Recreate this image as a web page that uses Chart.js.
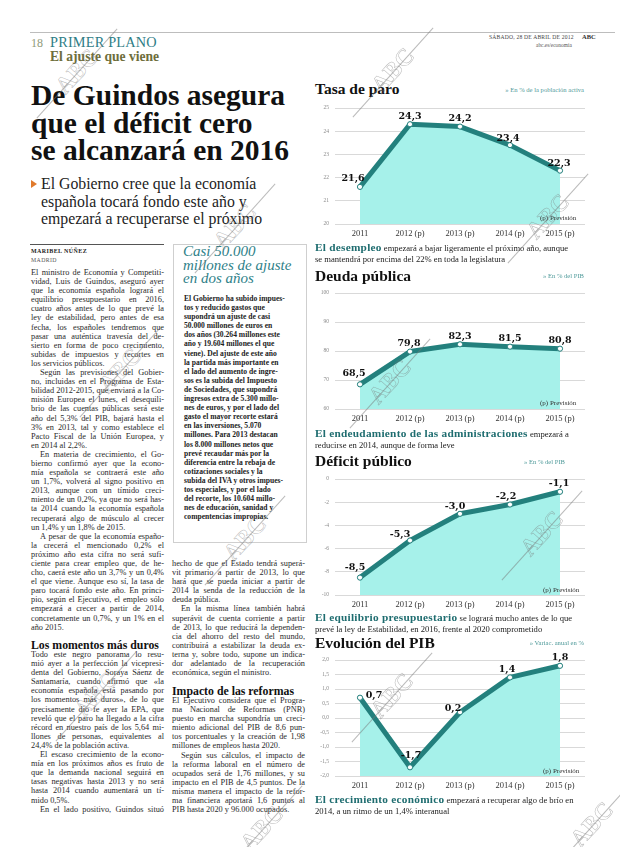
<!DOCTYPE html>
<html><head><meta charset="utf-8">
<script src="https://cdn.jsdelivr.net/npm/chart.js@4.4.1/dist/chart.umd.min.js"></script>
<style>
html,body{margin:0;padding:0;background:#fff;}
#page{position:relative;width:620px;height:847px;overflow:hidden;font-family:"Liberation Serif",serif;color:#222;}
.a{position:absolute;white-space:nowrap;}
.col{position:absolute;font-size:8.3px;line-height:9.1px;color:#2a2a2a;}
.col .l{height:9.1px;white-space:nowrap;}
.ind{padding-left:9px;}
.h3{font-weight:bold;font-size:11.8px;color:#111;}
.ctitle{position:absolute;font-weight:bold;font-size:15.5px;color:#111;white-space:nowrap;}
.cnote{position:absolute;font-size:6.6px;color:#4f9a9a;white-space:nowrap;}
.prev{position:absolute;font-size:7px;color:#333;white-space:nowrap;z-index:5;}
.cap{position:absolute;font-size:8.6px;line-height:11px;color:#222;white-space:nowrap;}
.cap b{font-size:11.3px;color:#1f6d70;letter-spacing:0.25px;}
canvas{position:absolute;}
.wm{position:absolute;width:0;height:0;z-index:20;}
.wm .ln{position:absolute;left:-60px;top:0;width:120px;border-top:0.7px solid rgba(120,120,120,0.5);transform:rotate(-48deg);}
.wm .tx{position:absolute;left:-30px;top:-15px;width:60px;text-align:center;font:bold 24px "Liberation Serif",serif;color:rgba(255,255,255,0);-webkit-text-stroke:0.5px rgba(120,120,120,0.55);transform:rotate(-48deg);}
</style></head>
<body><div id="page">

<!-- header -->
<div class="a" style="left:30px;top:32px;width:585px;border-top:1px solid #bdbdbd;"></div>
<div class="a" style="left:31px;top:36px;font-size:12px;color:#8f9a7a;">18</div>
<div class="a" style="left:50px;top:34px;font-size:14.3px;color:#2e7d86;letter-spacing:0.2px;">PRIMER PLANO</div>
<div class="a" style="left:50px;top:49px;font-size:13.6px;font-weight:bold;color:#6e6e3c;">El ajuste que viene</div>
<div class="a" style="left:489px;top:34px;font-size:5.6px;color:#444;letter-spacing:0.2px;">SÁBADO, 28 DE ABRIL DE 2012</div>
<div class="a" style="left:582px;top:33px;font-size:6.5px;font-weight:bold;color:#333;">ABC</div>
<div class="a" style="left:536px;top:42px;font-size:5.4px;color:#555;">abc.es/economia</div>

<!-- headline -->
<div class="a" style="left:31px;top:82px;font-size:29.5px;line-height:27.5px;font-weight:bold;color:#111;">De Guindos asegura<br>que el déficit cero<br>se alcanzará en 2016</div>
<div class="a" style="left:31px;top:180px;width:0;height:0;border-left:6px solid #e07a2c;border-top:4px solid transparent;border-bottom:4px solid transparent;"></div>
<div class="a" style="left:41px;top:175px;font-size:15.8px;line-height:17.5px;color:#222;">El Gobierno cree que la economía<br>española tocará fondo este año y<br>empezará a recuperarse el próximo</div>

<div class="a" style="left:30px;top:244px;width:134px;border-top:1px solid #555;"></div>
<div class="a" style="left:31px;top:248px;font-size:6px;font-weight:bold;letter-spacing:0.4px;color:#222;">MARIBEL NÚÑEZ</div>
<div class="a" style="left:31px;top:257px;font-size:5.8px;letter-spacing:0.4px;color:#555;">MADRID</div>

<!-- column 1 -->
<div class="col" id="col1" style="left:31px;top:268px;width:133px;">
<div class="l j">El ministro de Economía y Competiti-</div>
<div class="l j">vidad, Luis de Guindos, aseguró ayer</div>
<div class="l j">que la economía española logrará el</div>
<div class="l j">equilibrio presupuestario en 2016,</div>
<div class="l j">cuatro años antes de lo que prevé la</div>
<div class="l j">ley de estabilidad, pero antes de esa</div>
<div class="l j">fecha, los españoles tendremos que</div>
<div class="l j">pasar una auténtica travesía del de-</div>
<div class="l j">sierto en forma de poco crecimiento,</div>
<div class="l j">subidas de impuestos y recortes en</div>
<div class="l">los servicios públicos.</div>
<div class="l j ind">Según las previsiones del Gobier-</div>
<div class="l j">no, incluidas en el Programa de Esta-</div>
<div class="l j">bilidad 2012-2015, que enviará a la Co-</div>
<div class="l j">misión Europea el lunes, el desequili-</div>
<div class="l j">brio de las cuentas públicas será este</div>
<div class="l j">año del 5,3% del PIB, bajará hasta el</div>
<div class="l j">3% en 2013, tal y como establece el</div>
<div class="l j">Pacto Fiscal de la Unión Europea, y</div>
<div class="l">en 2014 al 2,2%.</div>
<div class="l j ind">En materia de crecimiento, el Go-</div>
<div class="l j">bierno confirmó ayer que la econo-</div>
<div class="l j">mía española se contraerá este año</div>
<div class="l j">un 1,7%, volverá al signo positivo en</div>
<div class="l j">2013, aunque con un tímido creci-</div>
<div class="l j">miento de un 0,2%, ya que no será has-</div>
<div class="l j">ta 2014 cuando la economía española</div>
<div class="l j">recuperará algo de músculo al crecer</div>
<div class="l">un 1,4% y un 1,8% de 2015.</div>
<div class="l j ind">A pesar de que la economía españo-</div>
<div class="l j">la crecerá el mencionado 0,2% el</div>
<div class="l j">próximo año esta cifra no será sufi-</div>
<div class="l j">ciente para crear empleo que, de he-</div>
<div class="l j">cho, caerá este año un 3,7% y un 0,4%</div>
<div class="l j">el que viene. Aunque eso sí, la tasa de</div>
<div class="l j">paro tocará fondo este año. En princi-</div>
<div class="l j">pio, según el Ejecutivo, el empleo sólo</div>
<div class="l j">empezará a crecer a partir de 2014,</div>
<div class="l j">concretamente un 0,7%, y un 1% en el</div>
<div class="l">año 2015.</div>
</div>
<div class="a h3" style="left:31px;top:638px;">Los momentos más duros</div>
<div class="col" style="left:31px;top:650px;width:133px;">
<div class="l j">Todo este negro panorama lo resu-</div>
<div class="l j">mió ayer a la perfección la vicepresi-</div>
<div class="l j">denta del Gobierno, Soraya Sáenz de</div>
<div class="l j">Santamaría, cuando afirmó que «la</div>
<div class="l j">economía española está pasando por</div>
<div class="l j">los momentos más duros», de lo que</div>
<div class="l j">precisamente dio fe ayer la EPA, que</div>
<div class="l j">reveló que el paro ha llegado a la cifra</div>
<div class="l j">récord en nuestro país de los 5,64 mi-</div>
<div class="l j">llones de personas, equivalentes al</div>
<div class="l">24,4% de la población activa.</div>
<div class="l j ind">El escaso crecimiento de la econo-</div>
<div class="l j">mía en los próximos años es fruto de</div>
<div class="l j">que la demanda nacional seguirá en</div>
<div class="l j">tasas negativas hasta 2013 y no será</div>
<div class="l j">hasta 2014 cuando aumentará un tí-</div>
<div class="l">mido 0,5%.</div>
<div class="l j ind">En el lado positivo, Guindos situó</div>
</div>

<!-- sidebar box -->
<div class="a" style="left:173px;top:244px;width:132px;height:297px;border:1px solid #cfcfcf;"></div>
<div class="a" style="left:183px;top:245px;font-size:15px;line-height:13.5px;font-style:italic;color:#2f8189;">Casi 50.000<br>millones de ajuste<br>en dos años</div>
<div class="col" style="left:184px;top:294px;width:115px;font-size:7.6px;line-height:9.2px;font-weight:bold;color:#222;">
<div class="l">El Gobierno ha subido impues-</div>
<div class="l">tos y reducido gastos que</div>
<div class="l">supondrá un ajuste de casi</div>
<div class="l">50.000 millones de euros en</div>
<div class="l">dos años (30.264 millones este</div>
<div class="l">año y 19.604 millones el que</div>
<div class="l">viene). Del ajuste de este año</div>
<div class="l">la partida más importante en</div>
<div class="l">el lado del aumento de ingre-</div>
<div class="l">sos es la subida del Impuesto</div>
<div class="l">de Sociedades, que supondrá</div>
<div class="l">ingresos extra de 5.300 millo-</div>
<div class="l">nes de euros, y por el lado del</div>
<div class="l">gasto el mayor recorte estará</div>
<div class="l">en las inversiones, 5.070</div>
<div class="l">millones. Para 2013 destacan</div>
<div class="l">los 8.000 millones netos que</div>
<div class="l">prevé recaudar más por la</div>
<div class="l">diferencia entre la rebaja de</div>
<div class="l">cotizaciones sociales y la</div>
<div class="l">subida del IVA y otros impues-</div>
<div class="l">tos especiales, y por el lado</div>
<div class="l">del recorte, los 10.604 millo-</div>
<div class="l">nes de educación, sanidad y</div>
<div class="l">compentencias impropias.</div>
</div>

<!-- column 2 -->
<div class="col" style="left:172px;top:559px;width:133px;">
<div class="l j">hecho de que el Estado tendrá superá-</div>
<div class="l j">vit primario a partir de 2013, lo que</div>
<div class="l j">hará que se pueda iniciar a partir de</div>
<div class="l j">2014 la senda de la reducción de la</div>
<div class="l">deuda pública.</div>
<div class="l j ind">En la misma línea también habrá</div>
<div class="l j">superávit de cuenta corriente a partir</div>
<div class="l j">de 2013, lo que reducirá la dependen-</div>
<div class="l j">cia del ahorro del resto del mundo,</div>
<div class="l j">contribuirá a estabilizar la deuda ex-</div>
<div class="l j">terna y, sobre todo, supone un indica-</div>
<div class="l j">dor adelantado de la recuperación</div>
<div class="l">económica, según el ministro.</div>
</div>
<div class="a h3" style="left:172px;top:684px;">Impacto de las reformas</div>
<div class="col" style="left:172px;top:696px;width:133px;">
<div class="l j">El Ejecutivo considera que el Progra-</div>
<div class="l j">ma Nacional de Reformas (PNR)</div>
<div class="l j">puesto en marcha supondría un creci-</div>
<div class="l j">miento adicional del PIB de 8,6 pun-</div>
<div class="l j">tos porcentuales y la creación de 1,98</div>
<div class="l">millones de empleos hasta 2020.</div>
<div class="l j ind">Según sus cálculos, el impacto de</div>
<div class="l j">la reforma laboral en el número de</div>
<div class="l j">ocupados será de 1,76 millones, y su</div>
<div class="l j">impacto en el PIB de 4,5 puntos. De la</div>
<div class="l j">misma manera el impacto de la refor-</div>
<div class="l j">ma financiera aportará 1,6 puntos al</div>
<div class="l">PIB hasta 2020 y 96.000 ocupados.</div>
</div>

<!-- charts -->
<div class="ctitle" style="left:315px;top:80px;">Tasa de paro</div>
<div class="cnote" style="right:36px;top:86px;">» En % de la población activa</div>
<canvas id="c1" width="300" height="146" style="left:313px;top:96px;"></canvas>
<div class="prev" style="left:540px;top:214px;">(p) Previsión</div>
<div class="cap" style="left:315px;top:242px;"><b>El desempleo</b> empezará a bajar ligeramente el próximo año, aunque<br>se mantendrá por encima del 22% en toda la legislatura</div>

<div class="ctitle" style="left:315px;top:267px;">Deuda pública</div>
<div class="cnote" style="right:36px;top:272px;">» En % del PIB</div>
<canvas id="c2" width="300" height="146" style="left:313px;top:281px;"></canvas>
<div class="prev" style="left:540px;top:399px;">(p) Previsión</div>
<div class="cap" style="left:315px;top:428px;"><b>El endeudamiento de las administraciones</b> empezará a<br>reducirse en 2014, aunque de forma leve</div>

<div class="ctitle" style="left:315px;top:452px;">Déficit público</div>
<div class="cnote" style="right:55px;top:458px;">» En % del PIB</div>
<canvas id="c3" width="300" height="146" style="left:313px;top:467px;"></canvas>
<div class="prev" style="left:543px;top:586px;">(p) Previsión</div>
<div class="cap" style="left:315px;top:612px;"><b>El equilibrio presupuestario</b> se logrará mucho antes de lo que<br>prevé la ley de Estabilidad, en 2016, frente al 2020 comprometido</div>

<div class="ctitle" style="left:315px;top:634px;">Evolución del PIB</div>
<div class="cnote" style="right:36px;top:639px;">» Variac. anual en %</div>
<canvas id="c4" width="300" height="146" style="left:313px;top:648px;"></canvas>
<div class="prev" style="left:543px;top:767px;">(p) Previsión</div>
<div class="cap" style="left:315px;top:794px;"><b>El crecimiento económico</b> empezará a recuperar algo de brío en<br>2014, a un ritmo de un 1,4% interanual</div>

<!-- watermarks -->
<div class="wm" style="left:77px;top:73px;"><div class="ln"></div><div class="tx">ABC</div></div>
<div class="wm" style="left:393px;top:72px;"><div class="ln"></div><div class="tx">ABC</div></div>
<div class="wm" style="left:548px;top:218px;"><div class="ln"></div><div class="tx">ABC</div></div>
<div class="wm" style="left:235px;top:228px;"><div class="ln"></div><div class="tx">ABC</div></div>
<div class="wm" style="left:120px;top:372px;"><div class="ln"></div><div class="tx">ABC</div></div>
<div class="wm" style="left:390px;top:383px;"><div class="ln"></div><div class="tx">ABC</div></div>
<div class="wm" style="left:542px;top:535px;"><div class="ln"></div><div class="tx">ABC</div></div>
<div class="wm" style="left:392px;top:697px;"><div class="ln"></div><div class="tx">ABC</div></div>
<div class="wm" style="left:96px;top:696px;"><div class="ln"></div><div class="tx">ABC</div></div>
<div class="wm" style="left:245px;top:540px;"><div class="ln"></div><div class="tx">ABC</div></div>
<div class="wm" style="left:262px;top:830px;"><div class="ln"></div><div class="tx">ABC</div></div>
<div class="wm" style="left:592px;top:826px;"><div class="ln"></div><div class="tx">ABC</div></div>

</div>
<script>
// ---- data ----
const years = ['2011', '2012 (p)', '2013 (p)', '2014 (p)', '2015 (p)'];
const paro = [21.6, 24.3, 24.2, 23.4, 22.3];
const deuda = [68.5, 79.8, 82.3, 81.5, 80.8];
const deficit = [-8.5, -5.3, -3.0, -2.2, -1.1];
const pib = [0.7, -1.7, 0.2, 1.4, 1.8];

// justify body lines
document.querySelectorAll('.l.j').forEach(el => {
  const W = el.parentElement.clientWidth;
  const ind = el.classList.contains('ind') ? 9 : 0;
  const sp = document.createElement('span');
  sp.textContent = el.textContent;
  el.textContent = '';
  el.appendChild(sp);
  const w = sp.getBoundingClientRect().width;
  const n = (sp.textContent.match(/ /g) || []).length;
  if (n > 0) el.style.wordSpacing = ((W - ind - w) / n) + 'px';
});

const TEAL = '#23807d';
const FILL = '#a6f1ea';
const comma = (v, d) => v.toFixed(d).replace('.', ',');

const labelPlugin = {
  id: 'vlabels',
  afterDatasetsDraw(chart, args, opts) {
    const ctx = chart.ctx;
    const meta = chart.getDatasetMeta(0);
    const ds = chart.data.datasets[0].data;
    ctx.save();
    ctx.font = 'bold 9.5px "DejaVu Serif"';
    ctx.fillStyle = '#111';
    ctx.textAlign = 'center';
    ctx.textBaseline = 'middle';
    meta.data.forEach((pt, i) => {
      const o = opts.offsets[i];
      ctx.fillText(comma(ds[i], 1), pt.x + o[0], pt.y + o[1]);
    });
    ctx.restore();
  }
};

function makeChart(id, values, yMin, yMax, step, dec, offsets) {
  new Chart(document.getElementById(id), {
    type: 'line',
    data: {
      labels: years,
      datasets: [{
        data: values,
        borderColor: TEAL,
        borderWidth: 5,
        backgroundColor: FILL,
        fill: 'start',
        tension: 0,
        borderJoinStyle: 'round',
        borderCapStyle: 'round',
        pointRadius: 2.6,
        pointBackgroundColor: '#fff',
        pointBorderColor: TEAL,
        pointBorderWidth: 1
      }]
    },
    options: {
      responsive: false,
      animation: false,
      events: [],
      layout: { padding: { top: 12, right: 28, left: 0, bottom: 0 } },
      plugins: { legend: { display: false }, tooltip: { enabled: false }, vlabels: { offsets } },
      scales: {
        x: {
          offset: true,
          grid: { display: false, drawTicks: false },
          border: { display: false },
          ticks: { font: { family: 'Liberation Serif', size: 8.5 }, color: '#333', padding: 5, maxRotation: 0, autoSkip: false },
          afterFit: s => { s.height = 18; }
        },
        y: {
          min: yMin, max: yMax,
          ticks: {
            stepSize: step,
            font: { family: 'Liberation Serif', size: 5.5 },
            color: '#8a8a8a',
            padding: 6,
            callback: v => comma(v, dec)
          },
          grid: { color: '#d9d9d9', lineWidth: 1, drawTicks: false },
          border: { display: false },
          afterFit: s => { s.width = 22; }
        }
      }
    },
    plugins: [labelPlugin]
  });
}

makeChart('c1', paro, 20, 25, 1, 0, [[-7, -8], [0, -8], [0, -8], [-2, -7], [-1, -7]]);
makeChart('c2', deuda, 60, 100, 10, 0, [[-6, -11], [-1, -8], [0, -8], [0, -8], [0, -8]]);
makeChart('c3', deficit, -10, 0, 2, 0, [[-5, -10], [-10, -6], [-5, -7], [-4, -8], [-1, -8]]);
makeChart('c4', pib, -2, 2, 0.5, 1, [[14, -2], [1, -12], [-7, -4], [-3, -8], [0, -8]]);
</script>
</body></html>
